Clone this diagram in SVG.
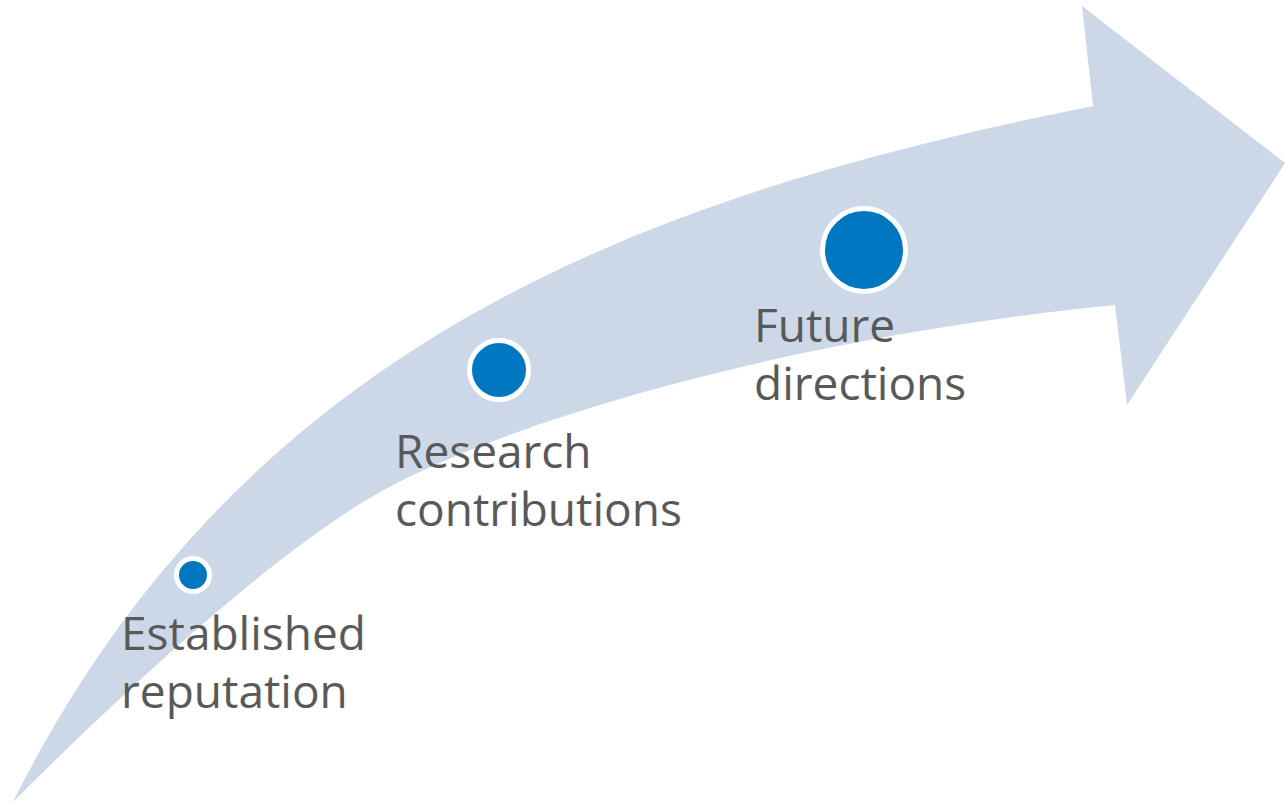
<svg xmlns="http://www.w3.org/2000/svg" width="1285" height="806" viewBox="0 0 1285 806">
<style>
.arrow{fill:#CCD7E8}
.dot{fill:#0077C0;stroke:#FFFFFF;stroke-width:5}
.lbl{font-family:"Open Sans","Liberation Sans",sans-serif;font-size:46px;fill:#595959}
</style>
<rect width="1285" height="806" fill="#FFFFFF"/>
<g id="connectors">
<path id="arrow" class="arrow" d="M13,802 C243,342 643,196 1093,106 L1082,6 L1285,163 L1127,405 L1115,305 C865,330 577,393 397,483 C297,533 143,672 13,802 Z"/>
</g>
<g id="node-established">
<circle class="dot" cx="193" cy="575" r="16.5"/>
<text class="lbl" x="121" y="650">Established</text>
<text class="lbl" x="121" y="708">reputation</text>
</g>
<g id="node-research">
<circle class="dot" cx="499" cy="370" r="29.5"/>
<text class="lbl" x="395" y="468">Research</text>
<text class="lbl" x="395" y="526">contributions</text>
</g>
<g id="node-future">
<circle class="dot" cx="864" cy="250" r="41.5"/>
<text class="lbl" x="754" y="342">Future</text>
<text class="lbl" x="754" y="400">directions</text>
</g>
</svg>
